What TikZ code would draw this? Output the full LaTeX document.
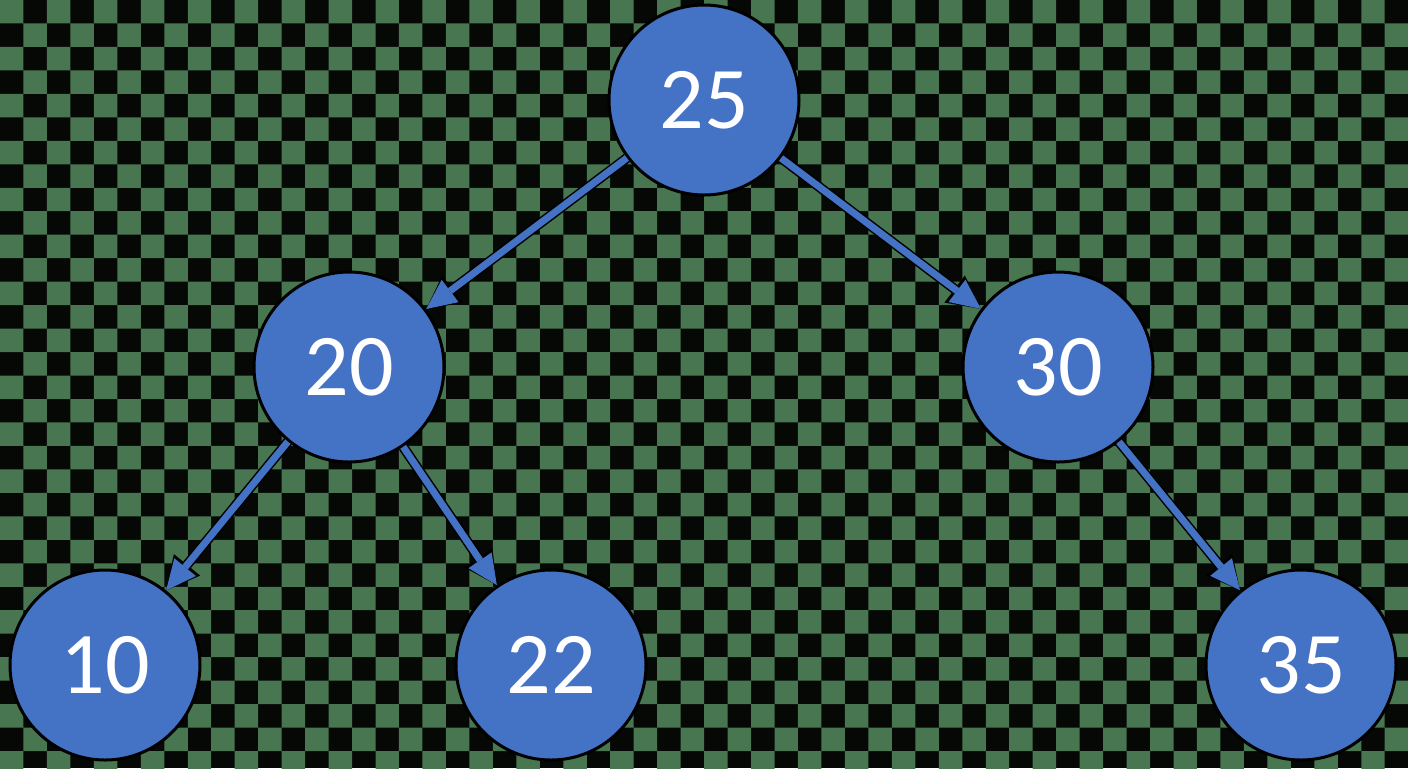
\documentclass[tikz,border=0pt]{standalone}
\usepackage{fontspec}
\usepackage[svgnames]{xcolor}
\newfontfamily\carlito{Carlito}
\usetikzlibrary{arrows.meta}

\definecolor{nodeblue}{HTML}{4472C4}
\definecolor{checkgreen}{RGB}{72,118,80}
\definecolor{checkblack}{RGB}{5,8,5}
\newcommand{\cellsize}{23.47}

\tikzset{
  treenode/.style={circle, minimum size=95pt, inner sep=0pt, fill=nodeblue, draw=black, line width=1.5pt, text=white, font=\carlito\fontsize{44}{50}\selectfont},
  treeedge/.style={draw=nodeblue, line width=3.5pt, -{Triangle[length=15pt,width=14pt,line width=0pt]},
    preaction={draw=black, line width=5pt, -{Triangle[length=16.5pt,width=17pt,line width=0pt]}}}
}

\begin{document}
\begin{tikzpicture}[x=0.5pt,y=-0.5pt]
\useasboundingbox (0,0) rectangle (1408,768);
\clip (0,0) rectangle (1408,768);
% background squares
\fill[checkblack] (0,0) rectangle (1408,768);
\foreach \i in {0,2,...,58} \foreach \j in {0,2,...,32} {
  \fill[checkgreen] (\i*\cellsize,\j*\cellsize) rectangle ++(\cellsize,\cellsize)
    (\i*\cellsize+\cellsize,\j*\cellsize+\cellsize) rectangle ++(\cellsize,\cellsize);
}
% tree
\node[treenode] (n25) at (704,100) {25};
\node[treenode] (n20) at (349,367) {20};
\node[treenode] (n30) at (1058,367) {30};
\node[treenode] (n10) at (105,665) {10};
\node[treenode] (n22) at (551,665) {22};
\node[treenode] (n35) at (1301,665) {35};
\draw[treeedge] (n25) -- (n20);
\draw[treeedge] (n25) -- (n30);
\draw[treeedge] (n20) -- (n10);
\draw[treeedge] (n20) -- (n22);
\draw[treeedge] (n30) -- (n35);
\end{tikzpicture}
\end{document}
